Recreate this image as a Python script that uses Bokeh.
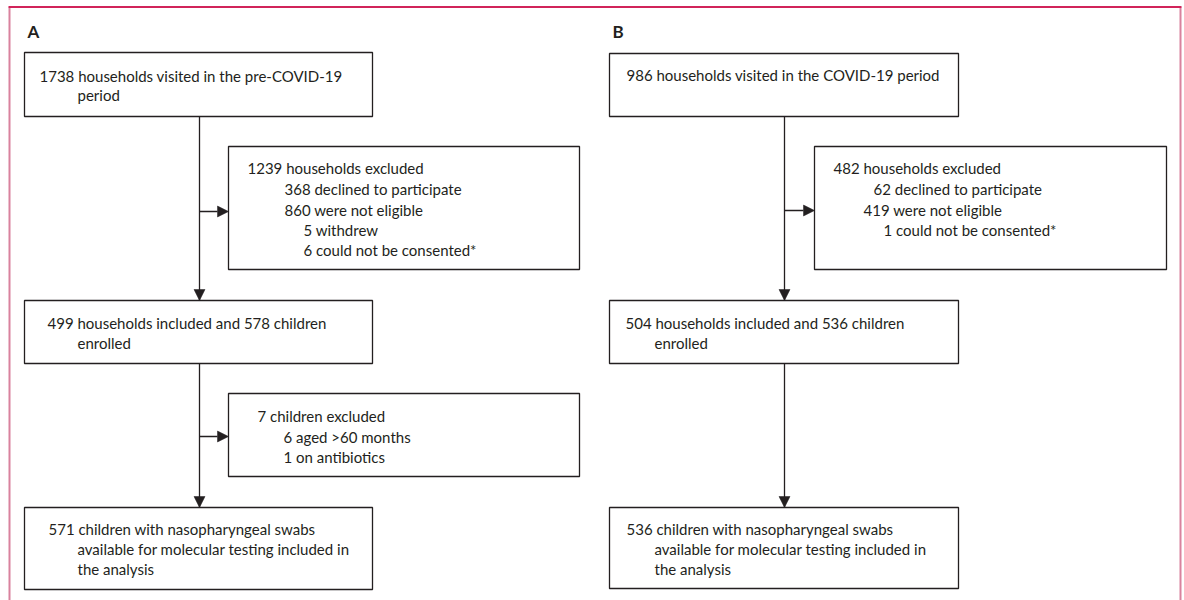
from bokeh.plotting import figure
from bokeh.models import Range1d
from bokeh.core.properties import value
from bokeh.embed import file_html
from bokeh.resources import INLINE

# ---- content (text of the flow diagram) ----
panel_labels = ["A", "B"]

a_visited = ["1738 households visited in the pre-COVID-19", "period"]
a_excluded = ["1239 households excluded", "368 declined to participate",
              "860 were not eligible", "5 withdrew", "6 could not be consented*"]
a_enrolled = ["499 households included and 578 children", "enrolled"]
a_child_excl = ["7 children excluded", "6 aged >60 months", "1 on antibiotics"]
a_analysed = ["571 children with nasopharyngeal swabs",
              "available for molecular testing included in", "the analysis"]

b_visited = ["986 households visited in the COVID-19 period"]
b_excluded = ["482 households excluded", "62 declined to participate",
              "419 were not eligible", "1 could not be consented*"]
b_enrolled = ["504 households included and 536 children", "enrolled"]
b_analysed = ["536 children with nasopharyngeal swabs",
              "available for molecular testing included in", "the analysis"]

# ---- layout (screen-pixel coordinates) ----
W, H = 1184, 600
p = figure(width=W, height=H, output_backend="svg", toolbar_location=None,
           x_range=Range1d(0, W), y_range=Range1d(H, 0),
           min_border=0, outline_line_color=None)
p.xaxis.visible = False
p.yaxis.visible = False
p.xgrid.visible = False
p.ygrid.visible = False
p.background_fill_color = "white"
p.border_fill_color = "white"

INK = "#231f20"
FONT = value("Lato")

# frame lines
p.segment(x0=[9], y0=[7], x1=[9], y1=[600], line_color="#d9829e", line_width=2)
p.segment(x0=[1180], y0=[7], x1=[1180], y1=[600], line_color="#d9829e", line_width=2)
p.segment(x0=[8], y0=[6.5], x1=[1181], y1=[6.5], line_color="#d1245a", line_width=2)

# boxes: (left, right, top, bottom)
boxes = [
    (24, 372, 52, 116), (228, 579, 146, 269), (24, 372, 300, 363),
    (228, 579, 393, 476), (24, 372, 507, 589),
    (609, 958, 53, 116), (814, 1166, 146, 269), (609, 958, 300, 363),
    (609, 958, 507, 588),
]
p.quad(left=[b[0] for b in boxes], right=[b[1] for b in boxes],
       top=[b[2] for b in boxes], bottom=[b[3] for b in boxes],
       fill_color="white", line_color=INK, line_width=1.3)

# connector lines
segs = [
    (199, 116, 199, 300), (199, 211, 217, 211),
    (199, 363, 199, 507), (199, 436, 217, 436),
    (784, 116, 784, 300), (784, 210, 803, 210),
    (784, 363, 784, 507),
]
p.segment(x0=[s[0] for s in segs], y0=[s[1] for s in segs],
          x1=[s[2] for s in segs], y1=[s[3] for s in segs],
          line_color=INK, line_width=1.3)

# arrowheads
down_tips = [(199, 300), (199, 507), (784, 300), (784, 507)]
right_tips = [(228, 211), (228, 436), (814, 210)]
xs, ys = [], []
for (x, y) in down_tips:
    xs.append([x - 5.5, x + 5.5, x]); ys.append([y - 11, y - 11, y])
for (x, y) in right_tips:
    xs.append([x - 11, x - 11, x]); ys.append([y - 5.5, y + 5.5, y])
p.patches(xs=xs, ys=ys, fill_color=INK, line_color=INK, line_width=0.5)

# panel labels
p.text(x=[27, 612], y=[31, 31], text=panel_labels, text_font=FONT,
       text_font_size="17px", text_font_style="bold", text_color=INK,
       text_baseline="middle", text_align="left")

# text lines with positions
groups = [
    (a_visited, [(39, 75), (77, 94)]),
    (a_excluded, [(247, 167), (284, 188), (284, 209), (303, 229), (303, 249)]),
    (a_enrolled, [(47, 322), (77, 342)]),
    (a_child_excl, [(257, 415), (283, 436), (283, 456)]),
    (a_analysed, [(48, 528), (77, 548), (77, 568)]),
    (b_visited, [(626, 74)]),
    (b_excluded, [(833, 167), (873, 188), (863, 209), (883, 229)]),
    (b_enrolled, [(625, 322), (654, 342)]),
    (b_analysed, [(626, 528), (654, 548), (654, 568)]),
]
tx, ty, tt = [], [], []
for lines, pos in groups:
    for s, (x, y) in zip(lines, pos):
        tx.append(x); ty.append(y); tt.append(s)
p.text(x=tx, y=ty, text=tt, text_font=FONT, text_font_size="15px",
       text_color=INK, text_baseline="middle", text_align="left")

open("out.html", "w").write(file_html(p, INLINE))
